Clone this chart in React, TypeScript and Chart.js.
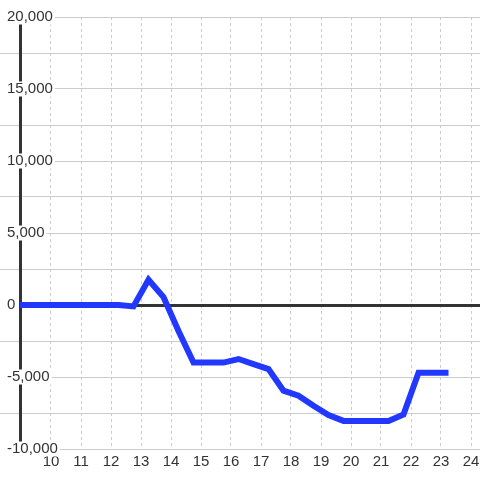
import React, { useEffect, useRef } from "react";
import { Chart, registerables } from "chart.js";

Chart.register(...registerables);

const hours = [8.75, 9.25, 9.75, 10.25, 10.75, 11.25, 11.75, 12.25, 12.75, 13.25, 13.75, 14.25, 14.75, 15.25, 15.75, 16.25, 16.75, 17.25, 17.75, 18.25, 18.75, 19.25, 19.75, 20.25, 20.75, 21.25, 21.75, 22.25, 22.75, 23.25];
const values = [0, 0, 0, 0, 0, 0, 0, 0, -100, 1750, 550, -1800, -4000, -4000, -4000, -3750, -4100, -4450, -5950, -6300, -7000, -7650, -8050, -8050, -8050, -8050, -7600, -4700, -4700, -4700];
const xTicks = [10, 11, 12, 13, 14, 15, 16, 17, 18, 19, 20, 21, 22, 23, 24];
const yMin = -10000;
const yMax = 20000;
const yStep = 2500;
const yLabelStep = 5000;

const FONT = "'Liberation Sans', Arial, sans-serif";

const isLabeled = (c: any) => c.tick && c.tick.value % yLabelStep === 0;

export default function App() {
  const ref = useRef<HTMLCanvasElement | null>(null);

  useEffect(() => {
    const canvas = ref.current;
    if (!canvas) return;
    const chart = new Chart(canvas, {
      type: "line",
      data: {
        datasets: [
          {
            data: hours.map((h, i) => ({ x: h, y: values[i] })),
            borderColor: "#2238ff",
            borderWidth: 6,
            pointRadius: 0,
            tension: 0,
            fill: false,
          },
        ],
      },
      options: {
        animation: false,
        responsive: false,
        maintainAspectRatio: false,
        layout: { padding: { top: 17, bottom: 5, left: 0, right: 0 } },
        plugins: { legend: { display: false }, tooltip: { enabled: false } },
        scales: {
          x: {
            type: "linear",
            position: "bottom",
            min: 10 - 31 / 30,
            max: 10 + 429 / 30,
            afterBuildTicks: (scale: any) => {
              scale.ticks = xTicks.map((v) => ({ value: v }));
            },
            afterFit: (scale: any) => {
              scale.paddingLeft = 0;
              scale.paddingRight = 0;
            },
            ticks: {
              color: "#333",
              font: { family: FONT, size: 15 },
              padding: 4,
              maxRotation: 0,
              autoSkip: false,
              callback: (v: any) => String(v),
            },
            grid: { color: "#cccccc", lineWidth: 1, drawTicks: false, borderDash: [3, 3] } as any,
            border: { display: false, dash: [3, 3] },
          },
          y: {
            type: "linear",
            position: "left",
            min: yMin,
            max: yMax,
            afterFit: (scale: any) => {
              scale.width = 20;
              scale.paddingTop = 0;
              scale.paddingBottom = 0;
            },
            ticks: {
              stepSize: yStep,
              mirror: true,
              crossAlign: "near",
              padding: -13,
              color: "#333",
              font: { family: FONT, size: 15, lineHeight: 1 },
              showLabelBackdrop: (c: any) => isLabeled(c),
              backdropColor: "#ffffff",
              backdropPadding: { left: 1, right: 2, top: 0, bottom: 0 },
              callback: (v: any) => (Number(v) % yLabelStep === 0 ? Number(v).toLocaleString("en-US") : ""),
            } as any,
            grid: {
              color: (c: any) => (c.tick && c.tick.value === 0 ? "#333333" : "#cccccc"),
              lineWidth: (c: any) => (c.tick && c.tick.value === 0 ? 3 : 1),
              tickColor: (c: any) => (isLabeled(c) ? "rgba(0,0,0,0)" : "#cccccc"),
              tickWidth: 1,
              tickLength: 20,
              drawTicks: true,
            },
            border: { display: true, color: "#333333", width: 3 },
          },
        },
      },
    });
    return () => chart.destroy();
  }, []);

  return (
    <div style={{ position: "fixed", left: 0, top: 0, width: 480, height: 480, background: "#fff" }}>
      <canvas ref={ref} width={480} height={480} style={{ width: 480, height: 480 }} />
    </div>
  );
}
